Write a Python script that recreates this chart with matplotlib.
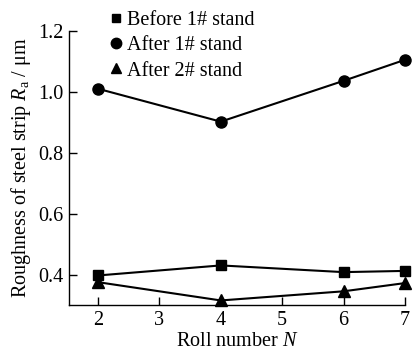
import matplotlib
matplotlib.use("Agg")
import matplotlib.pyplot as plt
from matplotlib.lines import Line2D

plt.rcParams['font.family'] = ['Liberation Serif', 'DejaVu Serif']
plt.rcParams['mathtext.fontset'] = 'custom'
plt.rcParams['mathtext.it'] = 'Liberation Serif:italic'
plt.rcParams['mathtext.rm'] = 'Liberation Serif'

roll_number = [2, 4, 6, 7]
before_1 = [0.397, 0.430, 0.408, 0.412]
after_1 = [1.010, 0.902, 1.036, 1.105]
after_2 = [0.375, 0.315, 0.345, 0.372]
labels = ['Before 1# stand', 'After 1# stand', 'After 2# stand']
markers = ['s', 'o', '^']

fig = plt.figure(figsize=(4.14, 3.51), dpi=100)
ax = fig.add_axes([0.167, 0.131, 0.811, 0.781])

sizes = [7, 8, 8]
for ys, m, ms in zip([before_1, after_1, after_2], markers, sizes):
    ax.plot(roll_number, ys, 'k-', marker=m, ms=ms, lw=1.5, clip_on=False)

ax.set_xlim(1.53, 7)
ax.set_ylim(0.3, 1.2)
ax.set_xticks([2, 3, 4, 5, 6, 7])
ax.set_yticks([0.4, 0.6, 0.8, 1.0, 1.2])
ax.set_yticklabels(['0.4', '0.6', '0.8', '1.0', '1.2'])
ax.tick_params(direction='in', length=6, width=1, labelsize=14.5, pad=4)
ax.spines['top'].set_visible(False)
ax.spines['right'].set_visible(False)
for s in ['left', 'bottom']:
    ax.spines[s].set_linewidth(1)

ax.set_xlabel('Roll number $N$', fontsize=14.5, labelpad=2)
ax.set_ylabel(r'Roughness of steel strip $R_{\mathrm{a}}$ / μm', fontsize=14.5, labelpad=4)

handles = [Line2D([], [], color='k', marker=m, ls='none', ms=s) for m, s in zip(markers, [6, 7.5, 7.5])]
ax.legend(handles, labels, loc='upper left', bbox_to_anchor=(0.125, 1.072), frameon=False,
          fontsize=14.5, handlelength=0.5, handletextpad=0.3, labelspacing=0.3,
          borderaxespad=0, borderpad=0)

fig.savefig('out.png', dpi=100)
